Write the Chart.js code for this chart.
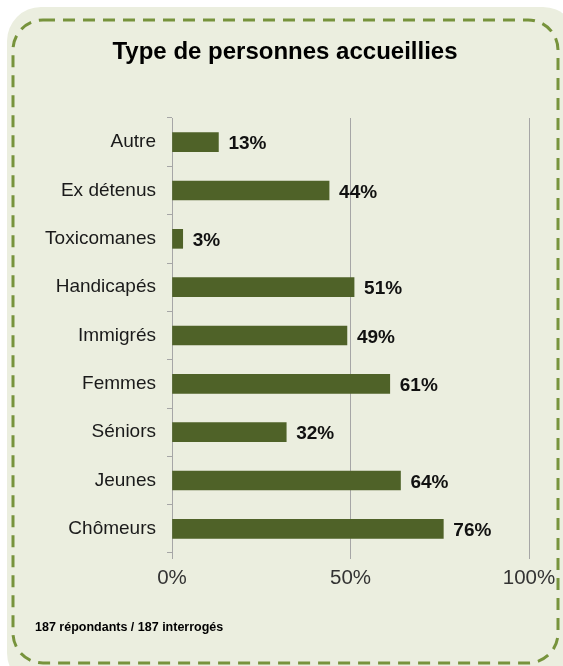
<!DOCTYPE html>
<html lang="fr">
<head>
<meta charset="utf-8">
<title>Type de personnes accueillies</title>
<script src="https://cdn.jsdelivr.net/npm/chart.js@4.4.1/dist/chart.umd.min.js"></script>
<style>
  html, body { margin: 0; padding: 0; background: #ffffff; }
  canvas { display: block; }
</style>
</head>
<body>
<canvas id="chartPersonnes" width="563" height="666"></canvas>
<script>
// DONNÉES
const categories = ["Autre", "Ex détenus", "Toxicomanes", "Handicapés", "Immigrés", "Femmes", "Séniors", "Jeunes", "Chômeurs"];
const pourcentages = [13, 44, 3, 51, 49, 61, 32, 64, 76];
const ticksX = [0, 50, 100];
const titre = "Type de personnes accueillies";
const note = "187 répondants / 187 interrogés";

const fontFamily = "'Liberation Sans', Arial, sans-serif";

// Fond arrondi + bordure pointillée, titre et note
const cadre = {
  id: "cadre",
  beforeDraw(chart) {
    const ctx = chart.ctx;
    ctx.save();
    // fond clair
    ctx.beginPath();
    ctx.roundRect(7, 7, 570, 680, 34);
    ctx.fillStyle = "#ebeedf";
    ctx.fill();
    // bordure pointillée
    ctx.beginPath();
    ctx.roundRect(13, 20, 545, 643, 30);
    ctx.setLineDash([12, 8]);
    ctx.lineWidth = 3;
    ctx.strokeStyle = "#77933c";
    ctx.stroke();
    ctx.restore();
  },
  afterDraw(chart) {
    const ctx = chart.ctx;
    ctx.save();
    ctx.fillStyle = "#000000";
    ctx.textAlign = "center";
    ctx.textBaseline = "alphabetic";
    ctx.font = "bold 24px " + fontFamily;
    ctx.fillText(titre, 285, 59);
    ctx.textAlign = "left";
    ctx.font = "bold 12.5px " + fontFamily;
    ctx.fillText(note, 35, 631);
    ctx.restore();
  }
};

// Étiquettes de valeur au bout des barres
const etiquettes = {
  id: "etiquettes",
  afterDatasetsDraw(chart) {
    const ctx = chart.ctx;
    const meta = chart.getDatasetMeta(0);
    ctx.save();
    ctx.font = "bold 19px " + fontFamily;
    ctx.fillStyle = "#111111";
    ctx.textAlign = "left";
    ctx.textBaseline = "middle";
    meta.data.forEach((bar, i) => {
      ctx.fillText(pourcentages[i] + "%", bar.x + 10, bar.y + 2);
    });
    ctx.restore();
  }
};

const ctx = document.getElementById("chartPersonnes").getContext("2d");

new Chart(ctx, {
  type: "bar",
  data: {
    labels: categories,
    datasets: [{
      data: pourcentages,
      backgroundColor: "#4f6228",
      barThickness: 19
    }]
  },
  options: {
    indexAxis: "y",
    responsive: false,
    animation: false,
    layout: { padding: { top: 118, right: 34, bottom: 0, left: 0 } },
    plugins: {
      legend: { display: false },
      tooltip: { enabled: false }
    },
    scales: {
      x: {
        min: 0,
        max: 100,
        afterBuildTicks(scale) {
          scale.ticks = ticksX.map(v => ({ value: v }));
        },
        afterFit(scale) { scale.height = 113; },
        border: { display: false },
        grid: { color: "#a6a6a6", tickLength: 6, lineWidth: 1 },
        ticks: {
          padding: 7,
          color: "#333333",
          font: { family: fontFamily, size: 20.5 },
          callback: v => v + "%"
        }
      },
      y: {
        afterFit(scale) { scale.width = 172; },
        offset: true,
        border: { display: true, color: "#a6a6a6" },
        grid: { offset: true, drawOnChartArea: false, tickLength: 5, color: "#a6a6a6" },
        ticks: {
          padding: 11,
          color: "#1a1a1a",
          font: { family: fontFamily, size: 19 }
        }
      }
    }
  },
  plugins: [cadre, etiquettes]
});
</script>
</body>
</html>
